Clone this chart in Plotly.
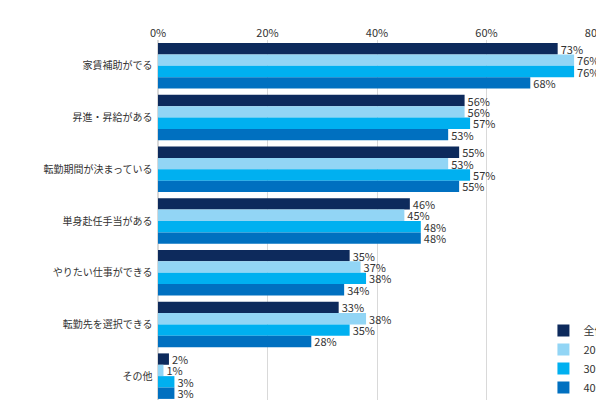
import plotly.graph_objects as go

categories = ["家賃補助がでる", "昇進・昇給がある", "転勤期間が決まっている", "単身赴任手当がある",
              "やりたい仕事ができる", "転勤先を選択できる", "その他"]
series_names = ["全体", "20代", "30代", "40代以上"]
values = [
    [73, 56, 55, 46, 35, 33, 2],
    [76, 56, 53, 45, 37, 38, 1],
    [76, 57, 57, 48, 38, 35, 3],
    [68, 53, 55, 48, 34, 28, 3],
]
colors = ["#0d2a5c", "#92d5f5", "#00b0f0", "#0070c0"]

fig = go.Figure()
for name, vals, col in zip(series_names, values, colors):
    fig.add_trace(go.Bar(
        y=categories, x=vals, name=name, orientation="h",
        marker=dict(color=col, line=dict(width=0)),
        text=[f"{v}%" for v in vals], textposition="outside",
        constraintext="none",
        textfont=dict(size=11, color="#333"), cliponaxis=False,
        width=0.22,
    ))

fig.update_layout(
    width=604, height=400, barmode="group", bargap=0.12, bargroupgap=0.0,
    plot_bgcolor="white", paper_bgcolor="white",
    font=dict(family="Noto Sans CJK JP", size=10, color="#333"),
    margin=dict(l=150, r=16, t=32, b=6, autoexpand=False),
    xaxis=dict(range=[0, 80], side="top", tickvals=[0, 20, 40, 60, 80],
               ticktext=["0%", "20%", "40%", "60%", "80%"],
               showgrid=True, gridcolor="#d9d9d9", zeroline=True,
               zerolinecolor="#d9d9d9", fixedrange=True, tickfont=dict(size=11)),
    yaxis=dict(autorange="reversed", ticksuffix="  ", showline=False),
    legend=dict(x=0.88, y=0.0, xanchor="left", yanchor="bottom",
                traceorder="normal", font=dict(size=11), itemwidth=30,
                bgcolor="rgba(0,0,0,0)"),
)
fig.write_html("out.html")
